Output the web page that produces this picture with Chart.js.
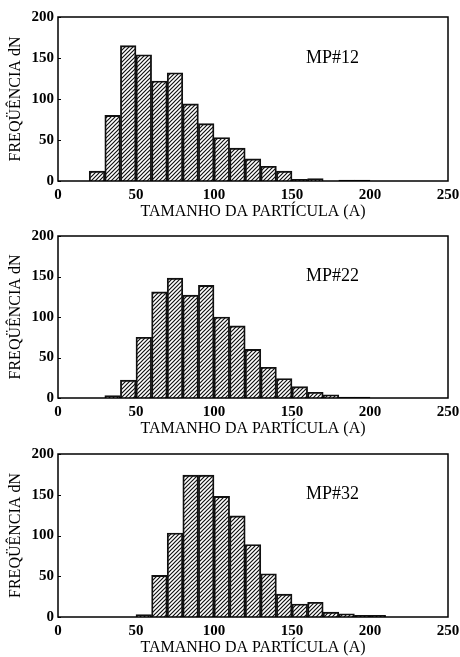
<!DOCTYPE html>
<html>
<head>
<meta charset="utf-8">
<script src="https://cdn.jsdelivr.net/npm/chart.js@4/dist/chart.umd.min.js"></script>
<style>
  body { margin: 0; background: #fff; width: 460px; height: 657px; overflow: hidden; }
  .painel { position: absolute; left: 0; width: 460px; }
</style>
</head>
<body>
<div class="painel" style="top:0;height:221px"><canvas id="c1"></canvas></div>
<div class="painel" style="top:219px;height:219px"><canvas id="c2"></canvas></div>
<div class="painel" style="top:437px;height:220px"><canvas id="c3"></canvas></div>
<script>
// classes de tamanho (inicio de cada intervalo de 10 A)
const classes = [0, 10, 20, 30, 40, 50, 60, 70, 80, 90, 100, 110, 120, 130, 140, 150, 160, 170, 180, 190, 200, 210, 220, 230, 240];

const mp12 = [0, 0, 12, 80, 165, 154, 122, 132, 94, 70, 53, 40, 27, 18, 12, 2, 3, 0, 1, 1, 0, 0, 0, 0, 0];
const mp22 = [0, 0, 0, 3, 22, 75, 131, 148, 127, 139, 100, 89, 60, 38, 24, 14, 7, 4, 1, 1, 0, 0, 0, 0, 0];
const mp32 = [0, 0, 0, 0, 0, 3, 51, 103, 174, 174, 148, 124, 89, 53, 28, 16, 18, 6, 4, 2, 2, 0, 0, 0, 0];

const ticksX = [0, 50, 100, 150, 200, 250];
const ticksY = [0, 50, 100, 150, 200];

const tituloX = 'TAMANHO DA PARTÍCULA (A)';
const tituloY = 'FREQÜÊNCIA dN';

// hachura diagonal tipo "////"
function hachura() {
    const s = 4;
    const c = document.createElement('canvas');
    c.width = s; c.height = s;
    const g = c.getContext('2d');
    g.strokeStyle = '#111';
    g.lineWidth = 1.2;
    g.beginPath();
    g.moveTo(0, s); g.lineTo(s, 0);
    g.moveTo(-1, 1); g.lineTo(1, -1);
    g.moveTo(s - 1, s + 1); g.lineTo(s + 1, s - 1);
    g.stroke();
    return g.createPattern(c, 'repeat');
}

const caixa = {
    id: 'caixa',
    afterDatasetsDraw(chart, args, opts) {
        const a = chart.chartArea;
        const ctx = chart.ctx;
        const y = chart.scales.y;
        ctx.save();
        ctx.strokeStyle = '#000';
        ctx.lineWidth = 1.5;
        ctx.strokeRect(a.left, a.top, a.right - a.left, a.bottom - a.top);
        // marcas curtas para dentro no eixo y
        ctx.lineWidth = 1;
        ctx.beginPath();
        ticksY.forEach(v => {
            const py = Math.round(y.getPixelForValue(v)) + 0.5;
            ctx.moveTo(a.left, py); ctx.lineTo(a.left + 3, py);
        });
        ctx.stroke();
        // rotulo da amostra
        ctx.fillStyle = '#000';
        ctx.font = '18px "Liberation Serif"';
        ctx.textBaseline = 'middle';
        ctx.fillText(opts.texto, chart.scales.x2.getPixelForValue(159), y.getPixelForValue(150));
        ctx.restore();
    }
};

function grafico(id, valores, rotulo) {
    new Chart(document.getElementById(id), {
        type: 'bar',
        data: {
            labels: classes,
            datasets: [{
                data: valores,
                backgroundColor: hachura(),
                borderColor: '#111',
                borderWidth: 1.2,
                barPercentage: 1,
                categoryPercentage: 1,
                xAxisID: 'x',
                yAxisID: 'y'
            }]
        },
        options: {
            responsive: true,
            maintainAspectRatio: false,
            animation: false,
            layout: { padding: { top: 17, right: 12, left: 0, bottom: 0 } },
            plugins: { legend: { display: false }, tooltip: { enabled: false }, caixa: { texto: rotulo } },
            scales: {
                x: { display: false },
                x2: {
                    type: 'linear', position: 'bottom', min: 0, max: 250, offset: false,
                    afterBuildTicks: s => { s.ticks = ticksX.map(v => ({ value: v })); },
                    afterFit: s => { s.height = 40; s.paddingRight = 0; s.paddingLeft = 0; },
                    grid: { display: false, drawTicks: false },
                    border: { display: false },
                    ticks: { color: '#000', padding: 5, font: { family: 'Liberation Serif', size: 15, weight: 'bold' } },
                    title: { display: true, text: tituloX, color: '#000', padding: { top: 4, bottom: 0 },
                             font: { family: 'Liberation Serif', size: 16 } }
                },
                y: {
                    min: 0, max: 200,
                    afterBuildTicks: s => { s.ticks = ticksY.map(v => ({ value: v })); },
                    afterFit: s => { s.width = 58; },
                    grid: { display: false, drawTicks: false },
                    border: { display: false },
                    ticks: { color: '#000', padding: 4, font: { family: 'Liberation Serif', size: 15, weight: 'bold' } },
                    title: { display: true, text: tituloY, color: '#000', padding: { top: 6, bottom: 0 },
                             font: { family: 'Liberation Serif', size: 16 } }
                }
            }
        },
        plugins: [caixa]
    });
}

grafico('c1', mp12, 'MP#12');
grafico('c2', mp22, 'MP#22');
grafico('c3', mp32, 'MP#32');
</script>
</body>
</html>
